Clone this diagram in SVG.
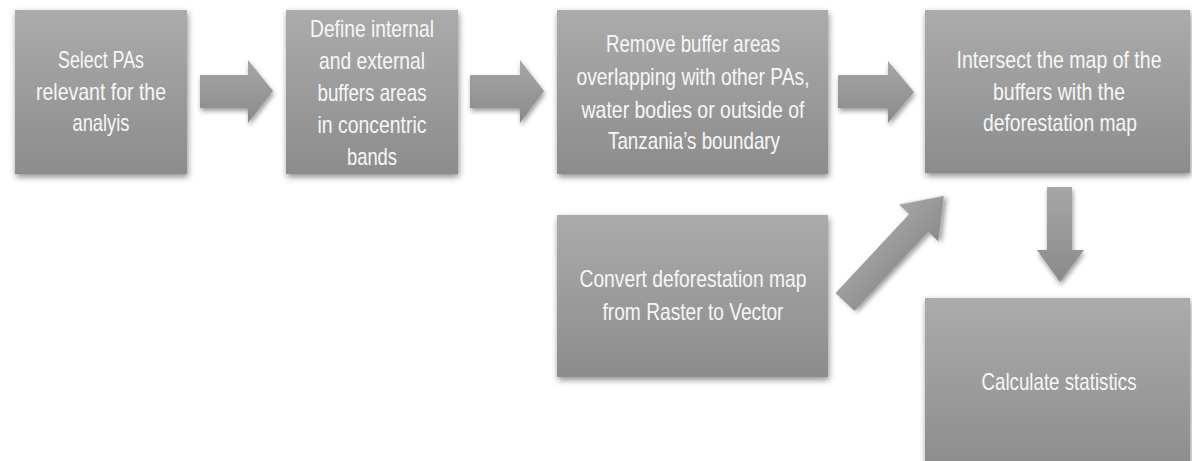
<svg xmlns="http://www.w3.org/2000/svg" width="1192" height="461" viewBox="0 0 1192 461">
<defs>
<linearGradient id="boxg" x1="0" y1="0" x2="0" y2="1">
<stop offset="0" stop-color="#ababab"/>
<stop offset="1" stop-color="#8c8c8c"/>
</linearGradient>
<linearGradient id="arrg" x1="0" y1="0" x2="0" y2="1">
<stop offset="0" stop-color="#a6a6a6"/>
<stop offset="1" stop-color="#8a8a8a"/>
</linearGradient>
<filter id="sh" x="-10%" y="-10%" width="125%" height="130%">
<feDropShadow dx="1" dy="3" stdDeviation="3" flood-color="#000" flood-opacity="0.45"/>
</filter>
<filter id="ash" x="-20%" y="-20%" width="150%" height="160%">
<feDropShadow dx="1" dy="3" stdDeviation="2.5" flood-color="#000" flood-opacity="0.4"/>
</filter>
</defs>
<style>
.box{fill:url(#boxg);filter:url(#sh);}
.arr{fill:url(#arrg);filter:url(#ash);}
.t{font-family:"Liberation Sans",Arial,sans-serif;font-size:24px;fill:#f7f7f7;text-anchor:middle;}
</style>
<rect width="1192" height="461" fill="#ffffff"/>

<g id="node1">
<rect class="box" x="15" y="10" width="172" height="164"/>
<text class="t" x="101" y="68" textLength="86" lengthAdjust="spacingAndGlyphs">Select PAs</text>
<text class="t" x="101" y="100" textLength="130" lengthAdjust="spacingAndGlyphs">relevant for the</text>
<text class="t" x="101" y="131" textLength="57" lengthAdjust="spacingAndGlyphs">analyis</text>
</g>

<g id="node2">
<rect class="box" x="286" y="10" width="172" height="164"/>
<text class="t" x="372" y="37" textLength="124" lengthAdjust="spacingAndGlyphs">Define internal</text>
<text class="t" x="372" y="69" textLength="106" lengthAdjust="spacingAndGlyphs">and external</text>
<text class="t" x="372" y="101" textLength="109" lengthAdjust="spacingAndGlyphs">buffers areas</text>
<text class="t" x="372" y="133" textLength="109" lengthAdjust="spacingAndGlyphs">in concentric</text>
<text class="t" x="372" y="165" textLength="50" lengthAdjust="spacingAndGlyphs">bands</text>
</g>

<g id="node3">
<rect class="box" x="557" y="10" width="271" height="164"/>
<text class="t" x="693" y="52" textLength="174" lengthAdjust="spacingAndGlyphs">Remove buffer areas</text>
<text class="t" x="693" y="85" textLength="233" lengthAdjust="spacingAndGlyphs">overlapping with other PAs,</text>
<text class="t" x="693" y="118" textLength="223" lengthAdjust="spacingAndGlyphs">water bodies or outside of</text>
<text class="t" x="694" y="149" textLength="172" lengthAdjust="spacingAndGlyphs">Tanzania’s boundary</text>
</g>

<g id="node4">
<rect class="box" x="925" y="10" width="265" height="163"/>
<text class="t" x="1059" y="68" textLength="205" lengthAdjust="spacingAndGlyphs">Intersect the map of the</text>
<text class="t" x="1059" y="100" textLength="132" lengthAdjust="spacingAndGlyphs">buffers with the</text>
<text class="t" x="1060" y="131" textLength="154" lengthAdjust="spacingAndGlyphs">deforestation map</text>
</g>

<g id="node5">
<rect class="box" x="557" y="215" width="271" height="162"/>
<text class="t" x="693" y="287" textLength="227" lengthAdjust="spacingAndGlyphs">Convert deforestation map</text>
<text class="t" x="693" y="320" textLength="181" lengthAdjust="spacingAndGlyphs">from Raster to Vector</text>
</g>

<g id="node6">
<rect class="box" x="925" y="298" width="265" height="175"/>
<text class="t" x="1059" y="390" textLength="155" lengthAdjust="spacingAndGlyphs">Calculate statistics</text>
</g>

<g id="connectors">
<polygon class="arr" points="200,75 248,75 248,60 273,91 248,123 248,108 200,108"/>
<polygon class="arr" points="470,75 520,75 520,60 544,91 520,123 520,108 470,108"/>
<polygon class="arr" points="838,75 888,75 888,61 914,92 888,123 888,108 838,108"/>
<polygon class="arr" transform="translate(845,302) rotate(-47)" points="0,-13 108,-13 108,-27 145,0 108,27 108,13 0,13"/>
<polygon class="arr" points="1047,187 1072,187 1072,250 1084,250 1060,282 1037,250 1047,250"/>
</g>
</svg>
